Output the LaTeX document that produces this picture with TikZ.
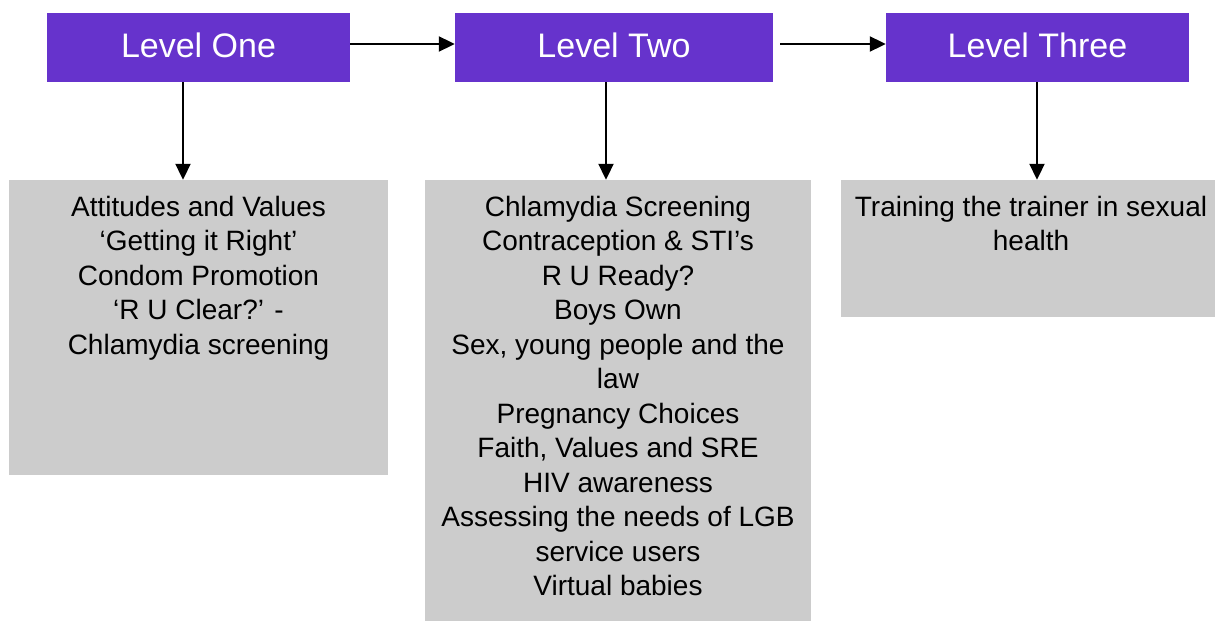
\documentclass[tikz,border=0pt]{standalone}
\usepackage{fontspec}
\setmainfont{Liberation Sans}
\usetikzlibrary{arrows.meta}
\definecolor{lvlpurple}{RGB}{102,51,204}
\definecolor{boxgray}{RGB}{204,204,204}
\begin{document}
\begin{tikzpicture}[x=1pt,y=-1pt,
  lvl/.style={fill=lvlpurple,draw=none,inner sep=0pt,text=white,
    text height=21pt,text depth=0pt,
    font=\fontsize{34}{40}\selectfont},
  gbox/.style={fill=boxgray,draw=none,inner sep=0pt},
  gtext/.style={anchor=north,inner sep=0pt,align=center,text=black,
    font=\fontsize{28}{34.5}\selectfont},
  arr/.style={-{Triangle[length=16pt,width=15pt]},line width=2pt,black}]
\useasboundingbox (0,0) rectangle (1215,623);
% level boxes
\node[lvl,minimum width=303pt,minimum height=69pt] (l1) at (198.5,47.5) {Level One};
\node[lvl,minimum width=318pt,minimum height=69pt] (l2) at (614,47.5) {Level Two};
\node[lvl,minimum width=303pt,minimum height=69pt] (l3) at (1037.5,47.5) {Level Three};
% gray boxes
\node[gbox,minimum width=379pt,minimum height=295pt] (g1) at (198.5,327.5) {};
\node[gbox,minimum width=386pt,minimum height=441pt] (g2) at (618,400.5) {};
\node[gbox,minimum width=374pt,minimum height=137pt] (g3) at (1028,248.5) {};
% texts
\node[gtext] (t1) at (198.5,196) {Attitudes and Values\\‘Getting it Right’\\Condom Promotion\\‘R U Clear?’ -\\Chlamydia screening};
\node[gtext] (t2) at (618,196) {Chlamydia Screening\\Contraception \& STI’s\\R U Ready?\\Boys Own\\Sex, young people and the\\law\\Pregnancy Choices\\Faith, Values and SRE\\HIV awareness\\Assessing the needs of LGB\\service users\\Virtual babies};
\node[gtext] (t3) at (1031,196) {Training the trainer in sexual\\health};
% arrow columns
\coordinate (a1) at (183,0);
\coordinate (a2) at (606,0);
\coordinate (a3) at (1037,0);
\draw[arr] ([yshift=3.5pt]l1.east) -- ([yshift=3.5pt]l2.west);
\draw[arr] ([xshift=7pt,yshift=3.5pt]l2.east) -- ([yshift=3.5pt]l3.west);
\draw[arr] (l1.south -| a1) -- (g1.north -| a1);
\draw[arr] (l2.south -| a2) -- (g2.north -| a2);
\draw[arr] (l3.south -| a3) -- (g3.north -| a3);
\end{tikzpicture}
\end{document}
